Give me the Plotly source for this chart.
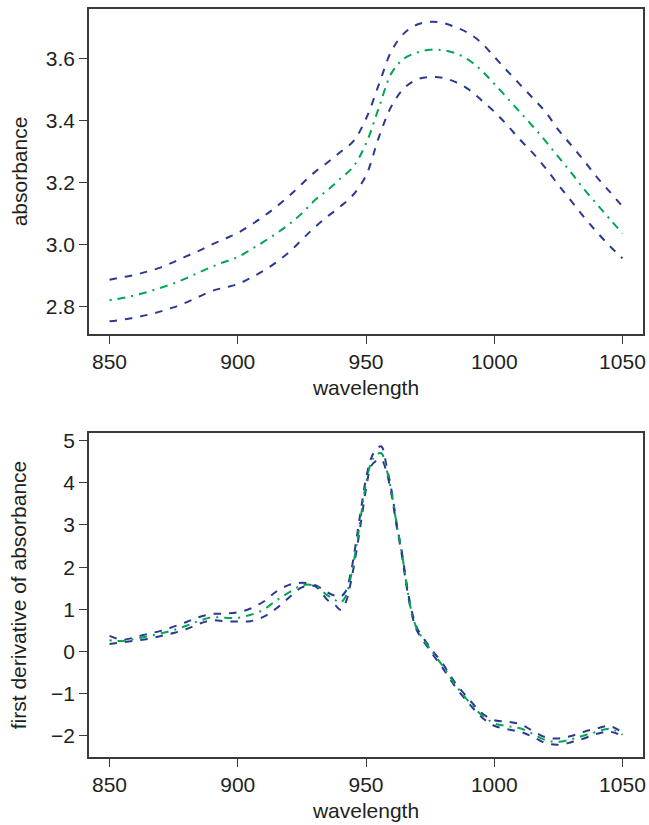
import plotly.graph_objects as go
from plotly.subplots import make_subplots

# ---- top panel: absorbance spectra (mean and mean ± sd) ----
wl_abs = [850, 855, 860, 865, 870, 875, 880, 885, 890, 895, 900, 905, 910, 915, 920,
          925, 930, 935, 940, 945, 950, 955, 960, 965, 970, 975, 980, 985, 990, 995,
          1000, 1005, 1010, 1015, 1020, 1025, 1030, 1035, 1040, 1045, 1050]
abs_upper = [2.886, 2.894, 2.902, 2.913, 2.926, 2.943, 2.962, 2.980, 3.000, 3.018, 3.037,
             3.062, 3.090, 3.121, 3.156, 3.195, 3.233, 3.264, 3.298, 3.332, 3.405, 3.515,
             3.625, 3.682, 3.709, 3.718, 3.714, 3.700, 3.681, 3.650, 3.605, 3.560, 3.516,
             3.472, 3.427, 3.369, 3.320, 3.270, 3.217, 3.170, 3.122]
abs_mean = [2.820, 2.827, 2.836, 2.847, 2.860, 2.874, 2.891, 2.910, 2.928, 2.944, 2.959,
            2.983, 3.008, 3.035, 3.065, 3.100, 3.142, 3.175, 3.212, 3.250, 3.325, 3.440,
            3.553, 3.600, 3.619, 3.628, 3.626, 3.616, 3.595, 3.561, 3.518, 3.473, 3.427,
            3.381, 3.333, 3.282, 3.231, 3.178, 3.130, 3.082, 3.035]
abs_lower = [2.752, 2.757, 2.764, 2.773, 2.784, 2.797, 2.813, 2.832, 2.850, 2.861, 2.872,
             2.892, 2.915, 2.942, 2.975, 3.015, 3.055, 3.090, 3.122, 3.160, 3.222, 3.345,
             3.447, 3.505, 3.532, 3.540, 3.537, 3.523, 3.500, 3.465, 3.428, 3.385, 3.338,
             3.295, 3.246, 3.192, 3.140, 3.088, 3.040, 2.995, 2.955]

# ---- bottom panel: first derivative (mean and mean ± sd) ----
wl_der = [850, 855, 860, 865, 870, 875, 880, 885, 890, 895, 900, 905, 910, 915, 920, 925,
          930, 935, 938, 940, 942, 944, 946, 948, 950, 952, 954, 956, 958, 960, 962, 964,
          966, 968, 970, 975, 980, 985, 990, 995, 1000, 1005, 1010, 1015, 1020, 1025,
          1030, 1035, 1040, 1045, 1050]
der_upper = [0.37, 0.28, 0.34, 0.42, 0.49, 0.59, 0.70, 0.82, 0.89, 0.90, 0.93, 1.02, 1.18,
             1.42, 1.58, 1.63, 1.58, 1.40, 1.32, 1.30, 1.42, 1.85, 2.55, 3.35, 4.10, 4.58,
             4.80, 4.86, 4.40, 3.80, 3.02, 2.35, 1.55, 0.92, 0.55, 0.10, -0.30, -0.76,
             -1.12, -1.45, -1.63, -1.66, -1.72, -1.88, -2.03, -2.06, -2.00, -1.90, -1.82,
             -1.77, -1.92]
der_mean = [0.27, 0.25, 0.30, 0.36, 0.43, 0.51, 0.61, 0.73, 0.81, 0.80, 0.80, 0.87, 0.99,
            1.21, 1.40, 1.57, 1.56, 1.33, 1.22, 1.16, 1.30, 1.75, 2.40, 3.20, 3.98, 4.48,
            4.66, 4.70, 4.32, 3.76, 3.00, 2.33, 1.52, 0.88, 0.52, 0.06, -0.35, -0.80,
            -1.18, -1.50, -1.70, -1.77, -1.82, -1.95, -2.10, -2.14, -2.08, -1.99, -1.90,
            -1.83, -1.97]
der_lower = [0.18, 0.22, 0.26, 0.30, 0.37, 0.44, 0.53, 0.66, 0.74, 0.72, 0.71, 0.72, 0.82,
             1.02, 1.28, 1.52, 1.55, 1.22, 1.10, 0.99, 1.15, 1.62, 2.28, 3.05, 3.85, 4.40,
             4.52, 4.55, 4.25, 3.70, 2.95, 2.28, 1.48, 0.85, 0.48, 0.02, -0.40, -0.85,
             -1.22, -1.55, -1.76, -1.84, -1.90, -2.02, -2.17, -2.21, -2.15, -2.06, -1.95,
             -1.90, -2.00]

x_ticks = [850, 900, 950, 1000, 1050]
abs_ticks = [2.8, 3.0, 3.2, 3.4, 3.6]
der_ticks = [-2, -1, 0, 1, 2, 3, 4, 5]

BLUE = "#2b3990"
GREEN = "#00a651"
DASH = "7.5px,8px"
DASHDOT = "2px,6px,8px,6px"
FONT = "Liberation Sans, Arial, sans-serif"
TXT = "#231f20"

W, H = 649, 825
L, R, T, B = 89, 3, 9, 68
plot_h = H - T - B
top_dom = [(757 - 334) / plot_h, 1.0]
bot_dom = [0.0, (757 - 433) / plot_h]

fig = make_subplots(rows=2, cols=1)


def add(x, y, color, dash, row):
    fig.add_trace(go.Scatter(x=x, y=y, mode="lines",
                             line=dict(color=color, width=2, dash=dash, shape="spline",
                                       smoothing=1.0),
                             showlegend=False, hoverinfo="skip"), row=row, col=1)


add(wl_abs, abs_upper, BLUE, DASH, 1)
add(wl_abs, abs_lower, BLUE, DASH, 1)
add(wl_abs, abs_mean, GREEN, DASHDOT, 1)
add(wl_der, der_upper, BLUE, DASH, 2)
add(wl_der, der_lower, BLUE, DASH, 2)
add(wl_der, der_mean, GREEN, DASHDOT, 2)

axis_common = dict(showline=True, mirror=True, linecolor="#3a3a3a", linewidth=1.6,
                   ticks="outside", ticklen=8, tickwidth=1.4, tickcolor="#3a3a3a",
                   showgrid=False, zeroline=False,
                   tickfont=dict(family=FONT, size=21, color=TXT),
                   title_font=dict(family=FONT, size=21, color=TXT))

fig.update_xaxes(**axis_common, range=[842, 1058], tickvals=x_ticks,
                 title_text="wavelength", title_standoff=8)
fig.update_yaxes(**axis_common)
fig.update_yaxes(range=[2.711, 3.759], tickvals=abs_ticks, tickformat=".1f",
                 title_text="absorbance", title_standoff=12, domain=top_dom, row=1, col=1)
fig.update_yaxes(range=[-2.5, 5.18], tickvals=der_ticks,
                 title_text="first derivative of absorbance", title_standoff=19,
                 domain=bot_dom, row=2, col=1)

fig.update_layout(width=W, height=H, margin=dict(l=L, r=R, t=T, b=B),
                  plot_bgcolor="white", paper_bgcolor="white",
                  font=dict(family=FONT, color=TXT))

fig.write_html("out.html", config={"displayModeBar": False},
               post_script="document.body.style.margin='0';"
                           "document.body.style.overflow='hidden';")
